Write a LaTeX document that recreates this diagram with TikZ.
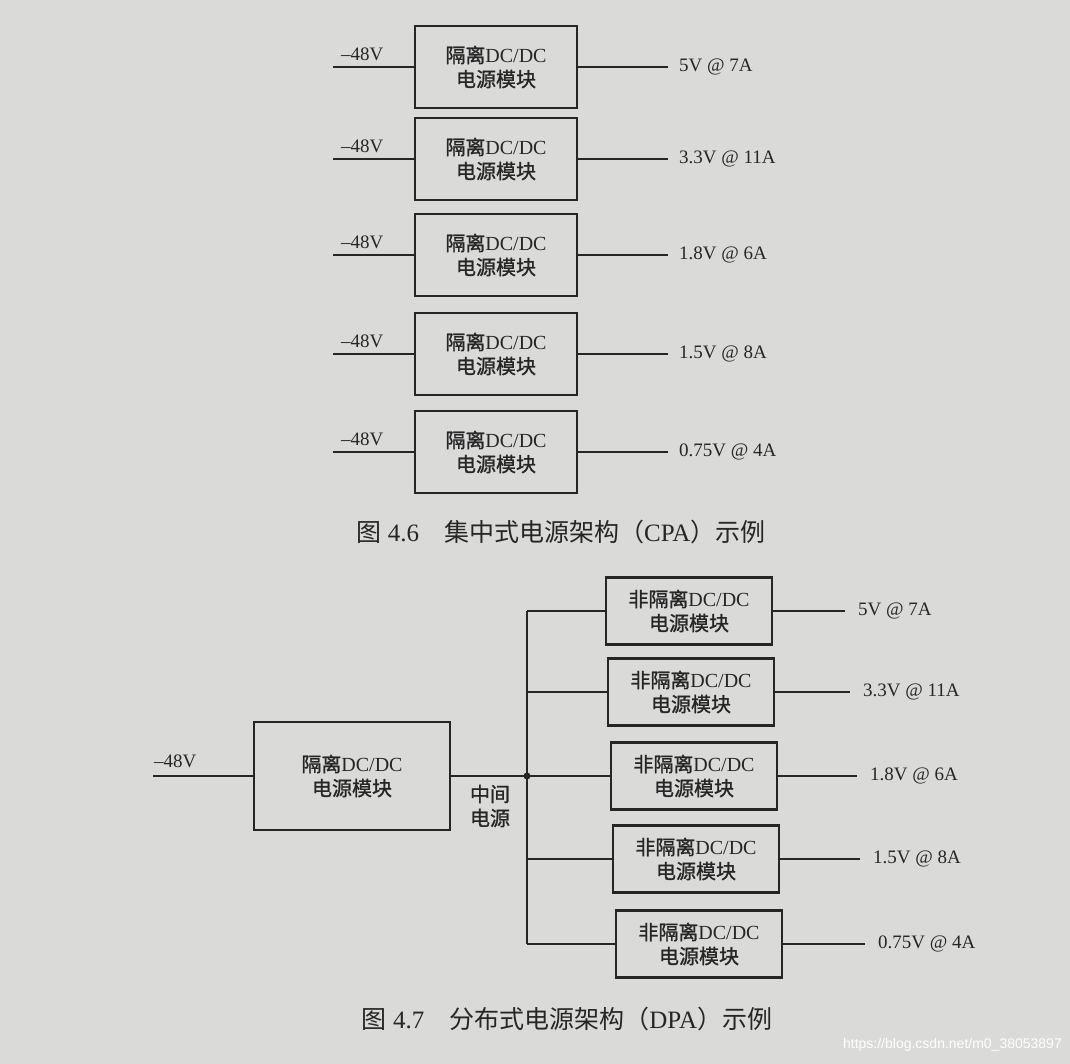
\documentclass[tikz,border=0pt]{standalone}
\usepackage{fontspec}
\setmainfont{Liberation Serif}
\newfontfamily\cjk{Noto Sans CJK SC}
\newfontfamily\cjkb[FakeBold=1.2]{Noto Sans CJK SC}
\newfontfamily\wmfont{Liberation Sans}
\definecolor{paper}{RGB}{218,218,216}
\definecolor{ink}{RGB}{38,38,38}
\tikzset{
  modbox/.style={draw=ink, line width=2.2pt, align=center, text=ink, font=\fontsize{20}{24}\selectfont, inner sep=0pt},
  wire/.style={draw=ink, line width=2pt},
  vlabel/.style={text=ink, font=\fontsize{19}{22}\selectfont, inner sep=1pt},
  caption/.style={text=ink, font=\fontsize{25}{30}\selectfont, inner sep=0pt},
}
\newcommand{\isomod}{{\cjkb 隔离}DC/DC\\{\cjkb 电源模块}}
\newcommand{\nisomod}{{\cjkb 非隔离}DC/DC\\{\cjkb 电源模块}}
\begin{document}
\begin{tikzpicture}[x=1pt,y=-1pt]
\fill[paper] (0,0) rectangle (1070,1064);
\useasboundingbox (0,0) rectangle (1070,1064);

% ---------- CPA ----------
\foreach \i/\y/\v in {1/67/{5V @ 7A},2/159/{3.3V @ 11A},3/255/{1.8V @ 6A},4/354/{1.5V @ 8A},5/452/{0.75V @ 4A}}{
  \node[modbox, minimum width=162pt, minimum height=82pt] (c\i) at (496,\y) {\isomod};
  \coordinate (ci\i) at (333,\y);
  \coordinate (co\i) at (668,\y);
  \draw[wire] (ci\i) -- (c\i.west);
  \draw[wire] (c\i.east) -- (co\i);
  \node[vlabel, anchor=south west] (cin\i) at (340,\y-5) {–48V};
  \node[vlabel, anchor=west] (cout\i) at (678,\y) {\v};
}
\node[caption] (cap1) at (561,532) {{\cjk 图} 4.6\quad{\cjk 集中式电源架构（}CPA{\cjk ）示例}};

% ---------- DPA ----------
\node[modbox, minimum width=196pt, minimum height=108pt] (main) at (352,776) {\isomod};
\coordinate (din) at (153,776);
\draw[wire] (din) -- (main.west);
\node[vlabel, anchor=south west] (dinl) at (153,769) {–48V};
\coordinate (jn) at (527,776);
\draw[wire] (main.east) -- (jn);
\fill[ink] (jn) circle (3.5pt);
\node[text=ink, font=\fontsize{20}{24}\selectfont\cjkb, align=center, inner sep=0pt] (mid) at (490,806) {中间\\电源};

\foreach \i/\x/\y/\ox/\v in {1/689/611/845/{5V @ 7A},2/691/692/850/{3.3V @ 11A},3/694/776/857/{1.8V @ 6A},4/696/859/860/{1.5V @ 8A},5/699/944/865/{0.75V @ 4A}}{
  \node[modbox, minimum width=166pt, minimum height=67pt] (d\i) at (\x,\y) {\nisomod};
  \coordinate (dj\i) at (527,\y);
  \coordinate (do\i) at (\ox,\y);
  \draw[wire] (dj\i) -- (d\i.west);
  \draw[wire] (d\i.east) -- (do\i);
  \node[vlabel, anchor=west] (dout\i) at (\ox+12,\y) {\v};
}
\draw[wire] (dj1) -- (dj5);

\node[caption] (cap2) at (567,1019) {{\cjk 图} 4.7\quad{\cjk 分布式电源架构（}DPA{\cjk ）示例}};

\node[text=white, font=\wmfont\fontsize{14}{16}\selectfont, anchor=east, inner sep=0pt] (wm) at (1062,1045) {https://blog.csdn.net/m0\_38053897};
\end{tikzpicture}
\end{document}
